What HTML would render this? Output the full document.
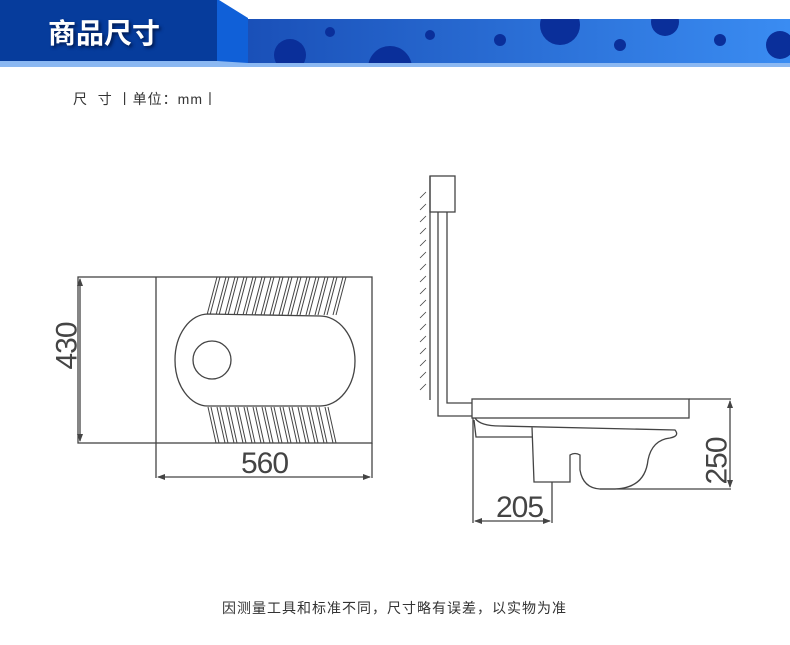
<!DOCTYPE html>
<html><head><meta charset="utf-8"><style>
body{margin:0;width:790px;height:645px;background:#fff;overflow:hidden;position:relative;font-family:"Liberation Sans","Noto Sans CJK SC",sans-serif}
.t{position:absolute;white-space:nowrap}
</style></head><body>
<svg width="790" height="645" style="position:absolute;left:0;top:0">
<defs><linearGradient id="g" x1="0" x2="1" y1="0" y2="0"><stop offset="0" stop-color="#1a50b8"/><stop offset="1" stop-color="#3a8cf2"/></linearGradient>
<clipPath id="c"><rect x="248" y="19" width="542" height="44"/></clipPath></defs>
<rect x="0" y="61" width="790" height="6" fill="#8bb8f2"/>
<rect x="0" y="0" width="219" height="61" fill="#063c9c"/>
<polygon points="217,0 219,0 248,18 248,63 217,61" fill="#1060d8"/>
<rect x="248" y="19" width="542" height="44" fill="url(#g)"/>
<g fill="#0a2f9a" clip-path="url(#c)">
<circle cx="290" cy="55" r="16"/><circle cx="390" cy="68" r="22"/><circle cx="560" cy="25" r="20"/><circle cx="665" cy="22" r="14"/><circle cx="780" cy="45" r="14"/>
<circle cx="330" cy="32" r="5"/><circle cx="430" cy="35" r="5"/><circle cx="500" cy="40" r="6"/><circle cx="620" cy="45" r="6"/><circle cx="720" cy="40" r="6"/>
</g>
<g stroke="#444" stroke-width="1.3" fill="none">
<rect x="78" y="277" width="294" height="166"/>
<line x1="156" y1="277" x2="156" y2="478"/>
<line x1="372" y1="443" x2="372" y2="478"/>
<line x1="80" y1="279" x2="80" y2="441"/>
<line x1="158" y1="477" x2="370" y2="477"/>
<path d="M207 315 l10 -38 m-7 38 l10 -38 m-4 38 l10 -38 m-7 38 l10 -38 m-4 38 l10 -38 m-7 38 l10 -38 m-4 38 l10 -38 m-7 38 l10 -38 m-4 38 l10 -38 m-7 38 l10 -38 m-4 38 l10 -38 m-7 38 l10 -38 m-4 38 l10 -38 m-7 38 l10 -38 m-4 38 l10 -38 m-7 38 l10 -38 m-4 38 l10 -38 m-7 38 l10 -38 m-4 38 l10 -38 m-7 38 l10 -38 m-4 38 l10 -38 m-7 38 l10 -38 m-4 38 l10 -38 m-7 38 l10 -38 m-4 38 l10 -38 m-7 38 l10 -38 m-4 38 l10 -38 m-7 38 l10 -38 m-4 38 l10 -38 m-7 38 l10 -38 m-4 38" stroke-width="1"/>
<path d="M208 407 l8 36 m-5 -36 l8 36 m-2 -36 l8 36 m-5 -36 l8 36 m-2 -36 l8 36 m-5 -36 l8 36 m-2 -36 l8 36 m-5 -36 l8 36 m-2 -36 l8 36 m-5 -36 l8 36 m-2 -36 l8 36 m-5 -36 l8 36 m-2 -36 l8 36 m-5 -36 l8 36 m-2 -36 l8 36 m-5 -36 l8 36 m-2 -36 l8 36 m-5 -36 l8 36 m-2 -36 l8 36 m-5 -36 l8 36 m-2 -36 l8 36 m-5 -36 l8 36 m-2 -36 l8 36 m-5 -36 l8 36 m-2 -36 l8 36 m-5 -36 l8 36 m-2 -36 l8 36 m-5 -36 l8 36 m-2 -36" stroke-width="1"/>
<path d="M208 314 L320 316 A35 45 0 0 1 320 406 L208 406 A33 46 0 0 1 208 314 Z" fill="#fff"/>
<circle cx="212" cy="360" r="19"/>
<rect x="430" y="176" width="25" height="36"/>
<path d="M430 176 V400"/>
<path d="M438 212 V416 H472 M447 212 V403 H472"/>
<path d="M426 192 l-6 6 m6 6 l-6 6 m6 6 l-6 6 m6 6 l-6 6 m6 6 l-6 6 m6 6 l-6 6 m6 6 l-6 6 m6 6 l-6 6 m6 6 l-6 6 m6 6 l-6 6 m6 6 l-6 6 m6 6 l-6 6 m6 6 l-6 6 m6 6 l-6 6 m6 6 l-6 6 m6 6 l-6 6 m6 6 l-6 6" stroke-width="0.8"/>
<rect x="472" y="399" width="217" height="19"/>
<line x1="689" y1="399" x2="731" y2="399"/>
<path d="M475 418 Q480 426 500 426 L675 430 Q680 436 670 438 Q652 440 648 460 Q645 488 615 489 L600 489 Q583 488 580 470 V455 Q575 452 570 455 V482 H534 L532 427"/>
<path d="M474 420 L476 437 H532"/>
<line x1="600" y1="489" x2="731" y2="489"/>
<line x1="730" y1="401" x2="730" y2="487"/>
<line x1="473" y1="418" x2="473" y2="523"/>
<line x1="552" y1="482" x2="552" y2="523"/>
<line x1="475" y1="521" x2="550" y2="521"/>
</g>
<g fill="#444">
<path d="M80 278 l-3 8 h6z M80 442 l-3 -8 h6z M157 477 l8 -3 v6z M371 477 l-8 -3 v6z M730 400 l-3 8 h6z M730 488 l-3 -8 h6z M474 521 l8 -3 v6z M551 521 l-8 -3 v6z"/>
</g>
</svg>
<div class="t" style="left:48px;top:12px;font-size:28px;font-weight:bold;color:#fff;text-shadow:2px 2px 3px #001a50">商品尺寸</div>
<div class="t" style="left:73px;top:89px;font-size:14px;color:#333;letter-spacing:1px">尺&nbsp; 寸 丨单位：mm丨</div>
<div class="t" style="left:241px;top:447px;font-size:30px;color:#444;letter-spacing:-1px">560</div>
<div class="t" style="left:496px;top:491px;font-size:30px;color:#444;letter-spacing:-1px">205</div>
<div class="t" style="left:44px;top:329px;font-size:30px;color:#444;letter-spacing:-1px;transform:rotate(-90deg)">430</div>
<div class="t" style="left:694px;top:444px;font-size:30px;color:#444;letter-spacing:-1px;transform:rotate(-90deg)">250</div>
<div class="t" style="left:222px;top:598px;font-size:14px;color:#333;letter-spacing:1px">因测量工具和标准不同，尺寸略有误差，以实物为准</div>
</body></html>
